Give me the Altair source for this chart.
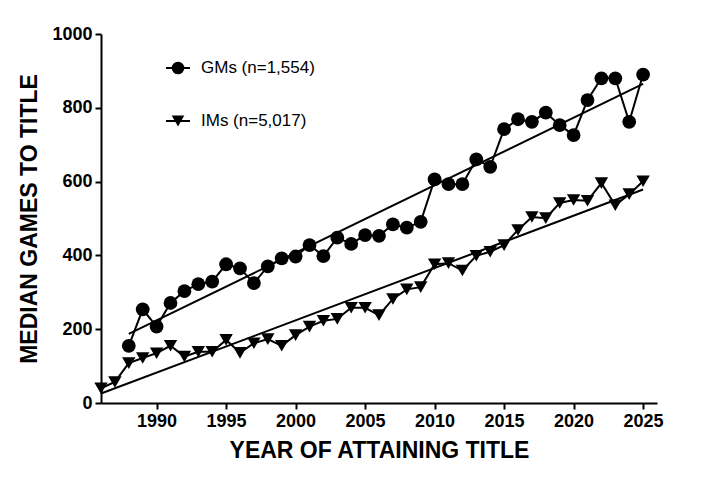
import altair as alt
import pandas as pd

# median games to title
gm_years = list(range(1988, 2026))
gm_median = [155, 254, 207, 271, 303, 322, 329, 376, 365, 325, 370, 392, 397, 428,
             398, 448, 431, 455, 453, 484, 475, 491, 606, 593, 593, 660, 640, 742,
             769, 762, 787, 753, 726, 821, 880, 880, 762, 890]

im_years = list(range(1986, 2026))
im_median = [40, 57, 108, 122, 135, 155, 126, 139, 139, 171, 136, 162, 173, 155,
             184, 207, 223, 228, 258, 258, 238, 282, 308, 314, 376, 379, 359, 399,
             410, 428, 469, 504, 501, 542, 550, 548, 596, 536, 566, 601]

df = pd.concat([
    pd.DataFrame({"year": gm_years, "median": gm_median, "type": "GM"}),
    pd.DataFrame({"year": im_years, "median": im_median, "type": "IM"}),
])

FONT = "Liberation Sans"

x = alt.X("year:Q", scale=alt.Scale(domain=[1986, 2026], nice=False, zero=False),
          axis=alt.Axis(values=list(range(1990, 2030, 5)), format="d",
                        title="YEAR OF ATTAINING TITLE"))
y = alt.Y("median:Q", scale=alt.Scale(domain=[0, 1000], nice=False),
          axis=alt.Axis(values=[0, 200, 400, 600, 800, 1000], format="d",
                        title="MEDIAN GAMES TO TITLE"))

base = alt.Chart(df)

lines = base.mark_line(color="black", strokeWidth=2).encode(x=x, y=y, detail="type:N")

gm_pts = base.transform_filter(alt.datum.type == "GM").mark_point(
    shape="circle", filled=True, color="black", opacity=1, size=190
).encode(x=x, y=y)

im_pts = base.transform_filter(alt.datum.type == "IM").mark_point(
    shape="triangle-down", filled=True, color="black", opacity=1, size=180
).encode(x=x, y=y)

fit = base.transform_regression("year", "median", groupby=["type"]).mark_line(
    color="black", strokeWidth=2
).encode(x=x, y=y, detail="type:N")

# hand-made legend in the top-left corner
leg = pd.DataFrame({"label": ["GMs (n=1,554)", "IMs (n=5,017)"],
                    "shape": ["circle", "triangle-down"],
                    "py": [34, 87]})
leg_base = alt.Chart(leg)
leg_rule = leg_base.mark_rule(color="black", strokeWidth=2).encode(
    x=alt.value(65), x2=alt.value(89), y=alt.Y("py:Q", scale=None))
leg_pt = leg_base.mark_point(filled=True, color="black", opacity=1, size=160).encode(
    x=alt.value(77), y=alt.Y("py:Q", scale=None),
    shape=alt.Shape("shape:N", scale=None))
leg_txt = leg_base.mark_text(align="left", baseline="middle", font=FONT, fontSize=17,
                             color="black").encode(
    x=alt.value(100), y=alt.Y("py:Q", scale=None), text="label:N")

chart = alt.layer(fit, lines, gm_pts, im_pts, leg_rule, leg_pt, leg_txt).properties(
    width=556, height=369,
    autosize=alt.AutoSizeParams(type="none"),
    padding={"left": 93, "top": 26, "right": 40, "bottom": 60},
).configure_view(stroke=None).configure_axis(
    grid=False, domainColor="black", domainWidth=2, tickColor="black", tickWidth=2,
    tickSize=6, labelFont=FONT, labelFontSize=18, labelFontWeight="bold",
    labelColor="black", titleFont=FONT, titleFontSize=23, titleFontWeight="bold",
    titleColor="black", labelPadding=3,
).configure_axisX(titlePadding=9).configure_axisY(titlePadding=10)

chart.save("out.html", embed_options={"renderer": "svg", "actions": False})
